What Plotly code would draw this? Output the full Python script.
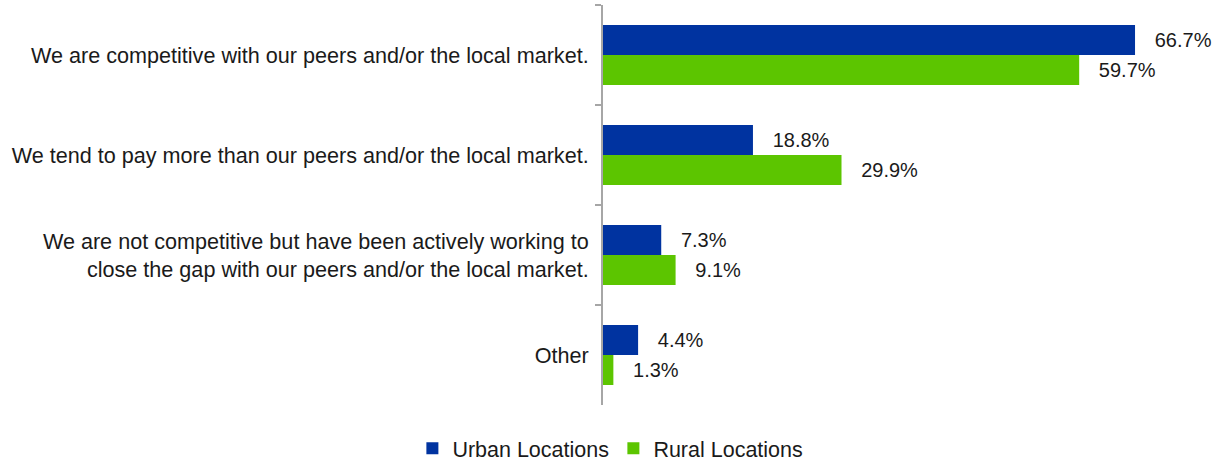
import plotly.graph_objects as go

categories = [
    "We are competitive with our peers and/or the local market.",
    "We tend to pay more than our peers and/or the local market.",
    "We are not competitive but have been actively working to<br>close the gap with our peers and/or the local market.",
    "Other",
]
urban = [66.7, 18.8, 7.3, 4.4]
rural = [59.7, 29.9, 9.1, 1.3]
series_names = ["Urban Locations", "Rural Locations"]
colors = ["#0033A0", "#5CC500"]

FONT = "Liberation Sans, Arial, Helvetica, sans-serif"
TXT = "#1a1a1a"

fig = go.Figure()
for name, vals, col in zip(series_names, [urban, rural], colors):
    fig.add_trace(go.Bar(
        y=categories, x=vals, name=name, orientation="h",
        marker=dict(color=col, line=dict(width=0)),
        text=[f"\u00a0\u00a0\u00a0{v:.1f}%" for v in vals],
        textposition="outside",
        textfont=dict(family=FONT, size=20, color=TXT),
        cliponaxis=False,
    ))

fig.update_layout(
    width=1212, height=463,
    margin=dict(l=603, r=0, t=5, b=58, autoexpand=False),
    barmode="group", bargap=0.4, bargroupgap=0,
    plot_bgcolor="white", paper_bgcolor="white",
    font=dict(family=FONT, size=21, color=TXT),
    showlegend=True,
    legend=dict(orientation="h", x=-0.313, xanchor="left",
                y=-0.108, yanchor="middle", entrywidth=156,
                font=dict(family=FONT, size=21.5, color=TXT),
                traceorder="normal"),
)
fig.update_xaxes(range=[0, 76.35], visible=False, showgrid=False, zeroline=False)
fig.update_yaxes(autorange="reversed", automargin=False, showline=True, linecolor="#A6A6A6", linewidth=2,
                 ticks="outside", tickson="boundaries", ticklen=6, tickcolor="#A6A6A6",
                 tickwidth=2, showgrid=False, ticklabelstandoff=8,
                 tickfont=dict(family=FONT, size=21.6, color=TXT))

fig.write_html("out.html", config={"displayModeBar": False},
               post_script="document.body.style.margin='0px';")
